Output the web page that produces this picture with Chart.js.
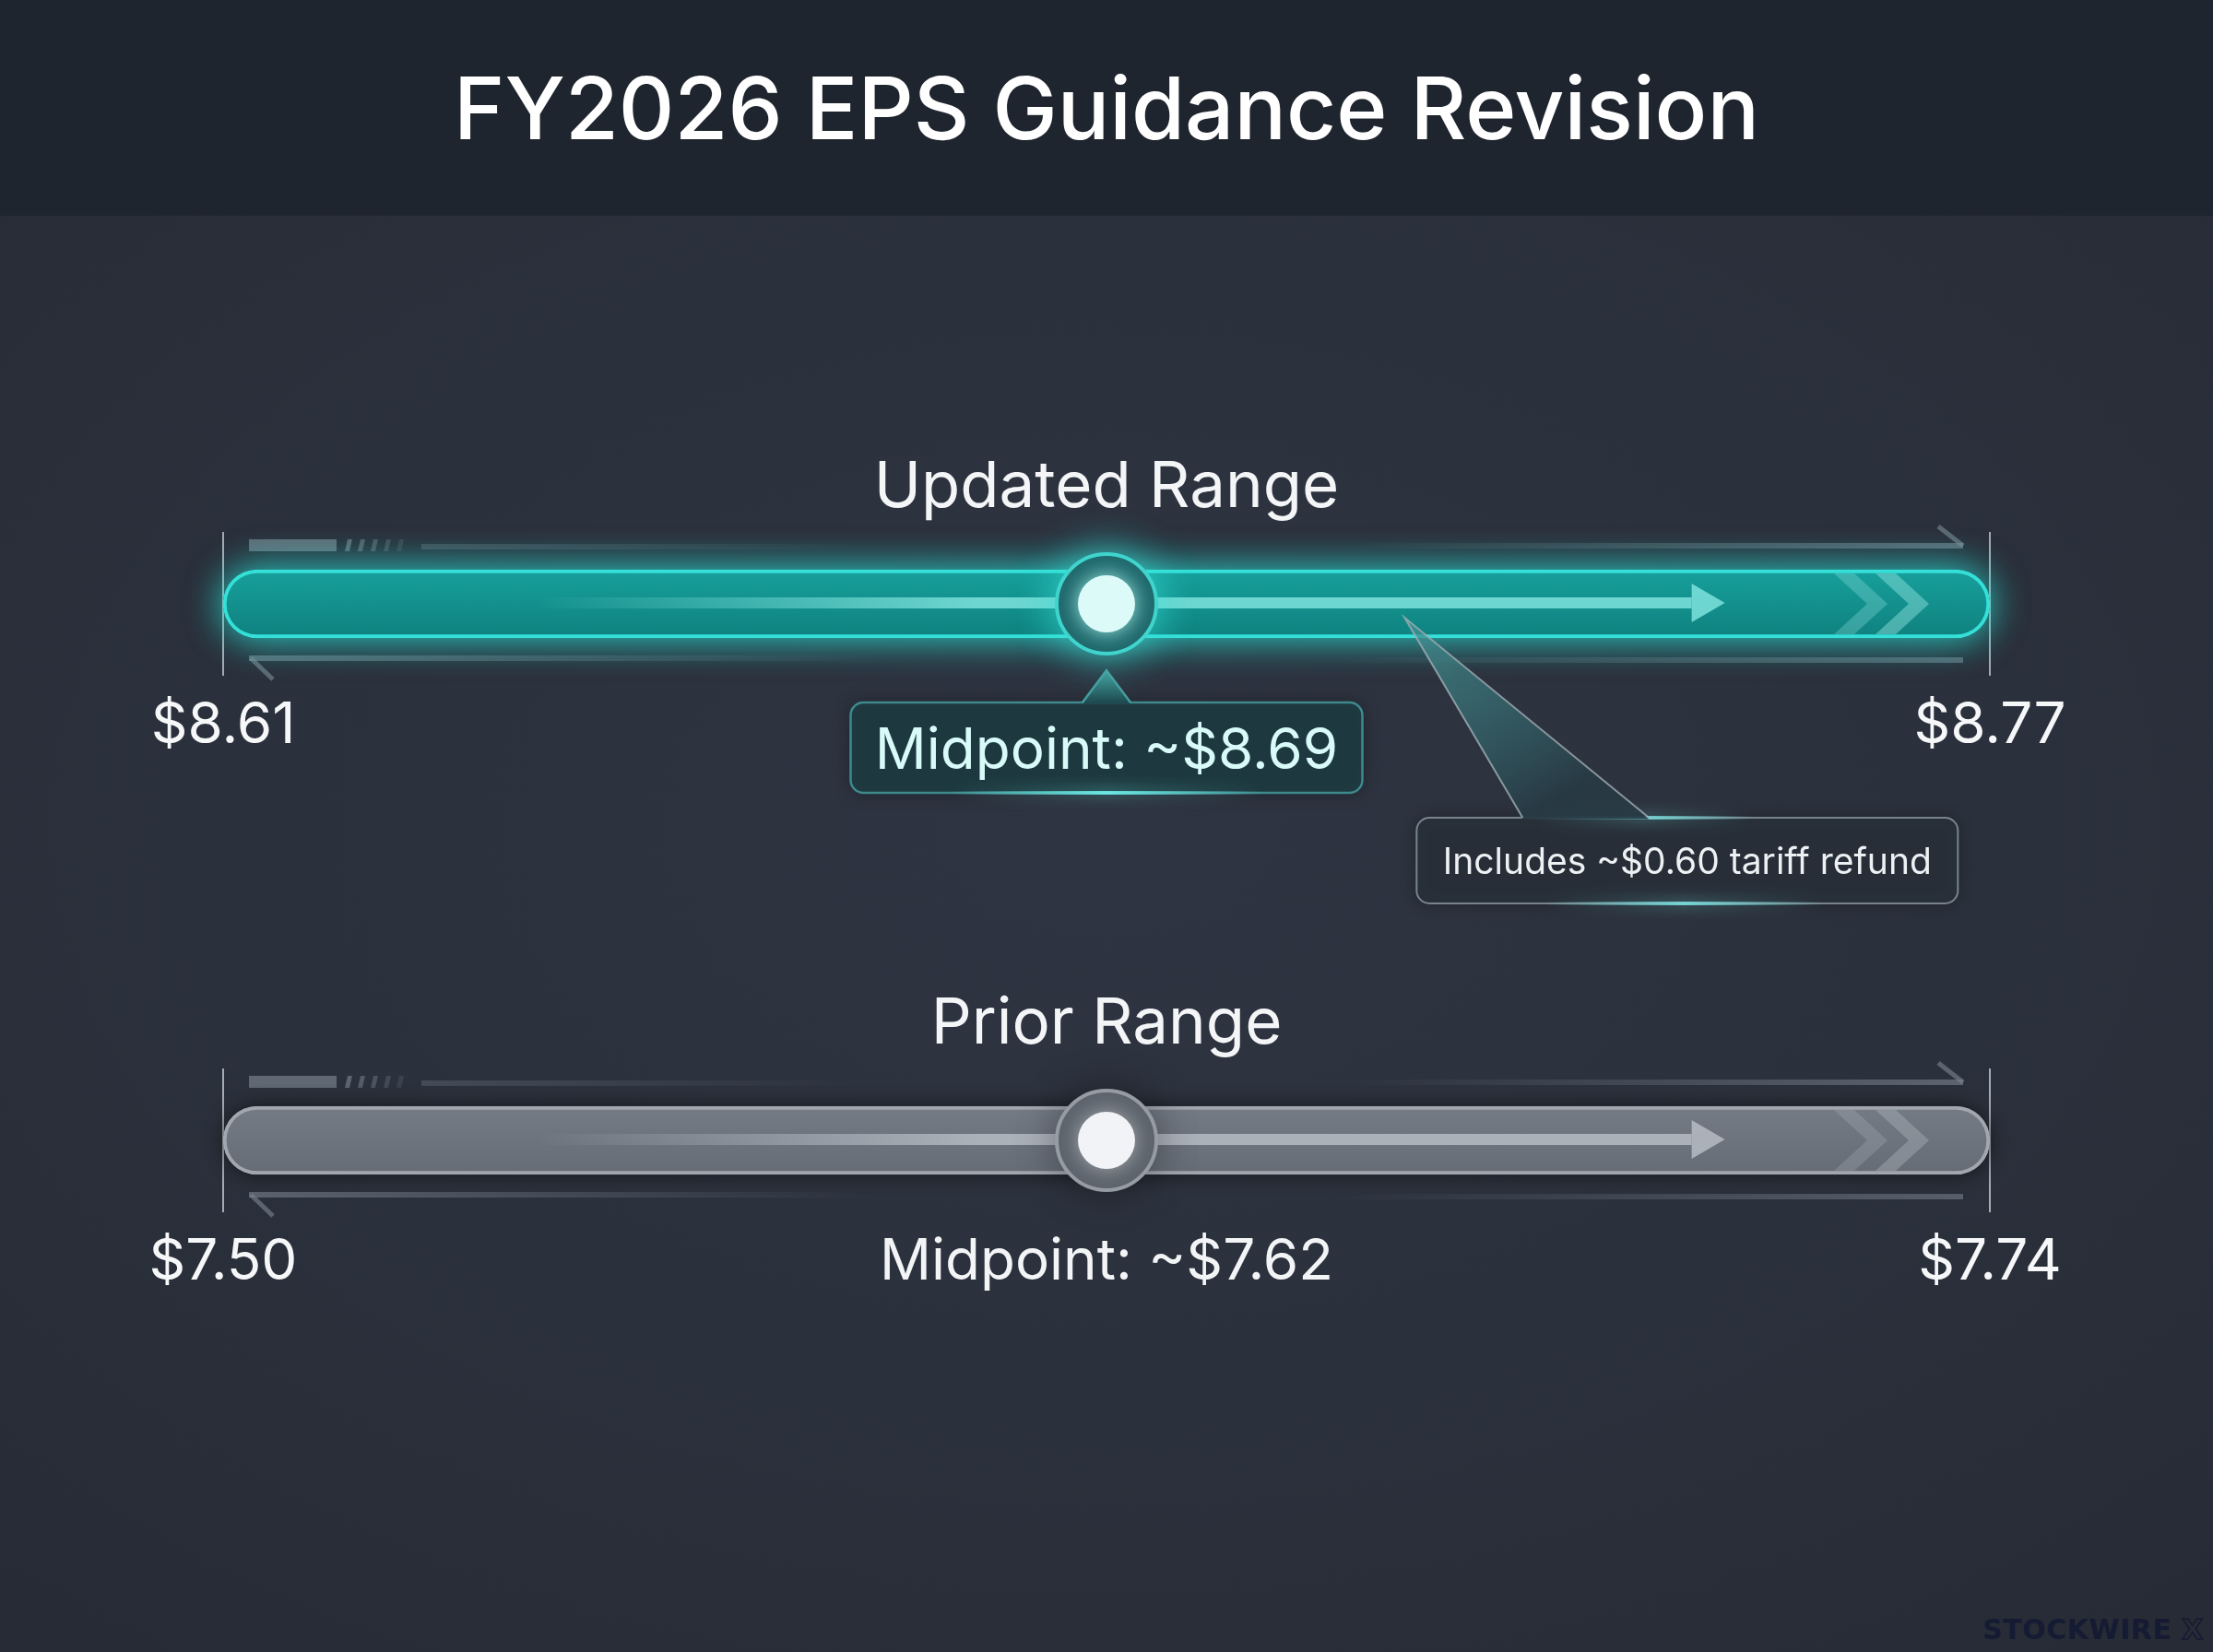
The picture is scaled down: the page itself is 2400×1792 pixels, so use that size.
<!DOCTYPE html>
<html lang="en">
<head>
<meta charset="UTF-8">
<title>FY2026 EPS Guidance Revision</title>
<script src="https://cdn.jsdelivr.net/npm/chart.js"></script>
<style>
  html, body { margin: 0; padding: 0; }
  body {
    width: 2400px; height: 1792px; overflow: hidden; position: relative;
    background: radial-gradient(ellipse 75% 65% at 50% 50%, #2e3441 0%, #2b313c 55%, #262b35 100%);
    font-family: Inter, "Noto Sans", sans-serif;
  }
  header {
    position: absolute; left: 0; top: 0; width: 2400px; height: 234px;
    background: #1f252e;
    display: flex; align-items: center; justify-content: center;
  }
  header h1 { margin: 0; color: #ffffff; font-weight: 500; font-size: 94px; }
  .chart-box { position: absolute; left: 0; top: 234px; width: 2400px; height: 1558px; }
  .brand {
    position: absolute; right: 10px; bottom: 7px;
    font-family: "DejaVu Sans", sans-serif; font-weight: bold; font-size: 30px;
    color: #141b33; letter-spacing: 0.5px;
  }
  .brand span { color: transparent; -webkit-text-stroke: 1.5px #141b33; }
</style>
</head>
<body>
<header><h1>FY2026 EPS Guidance Revision</h1></header>
<div class="chart-box"><canvas id="rangeChart"></canvas></div>
<div class="brand">STOCKWIRE <span>X</span></div>

<script>
// data
const rows = ['Updated Range', 'Prior Range'];
const lows = [8.61, 7.50];
const highs = [8.77, 7.74];
const mids = [8.69, 7.62];
const lowLabels = ['$8.61', '$7.50'];
const highLabels = ['$8.77', '$7.74'];
const midLabels = ['Midpoint: ~$8.69', 'Midpoint: ~$7.62'];
const noteText = 'Includes ~$0.60 tariff refund';
const noteAt = 8.717; // where the note points on the updated bar

// each row gets its own x axis so both ranges fill the width
const axisIds = ['xU', 'xP'];

const looks = [
  { fillTop: '#17a09c', fillBot: '#0f817f', border: '#34e0d8', glow: 'rgba(40,225,215,0.55)', glowBlur: 40,
    streak: '120,222,216', chevron: '160,236,232', ringFill: '#1d6065', ringBorder: '#3fd4cd',
    ringGlow: 'rgba(60,230,220,0.75)', dot: '#dcfaf8', dotGlow: 'rgba(180,255,250,0.9)',
    tick: 'rgba(205,212,218,0.75)', rail: '125,142,152', midColor: '#d8fbfa' },
  { fillTop: '#747b85', fillBot: '#656c76', border: '#a1a7af', glow: 'rgba(0,0,0,0.3)', glowBlur: 22,
    streak: '178,184,192', chevron: '172,178,186', ringFill: '#5f666f', ringBorder: '#959ca4',
    ringGlow: 'rgba(0,0,0,0.35)', dot: '#f1f3f6', dotGlow: 'rgba(255,255,255,0.45)',
    tick: 'rgba(205,212,218,0.75)', rail: '125,135,145', midColor: '#f2f4f6' }
];

function rowGeom(chart, i) {
  const xs = chart.scales[axisIds[i]];
  return {
    lx: xs.getPixelForValue(lows[i]),
    hx: xs.getPixelForValue(highs[i]),
    mx: xs.getPixelForValue(mids[i]),
    cy: chart.scales.y.getPixelForValue(i),
    xs: xs
  };
}

function barFill(chart, i) {
  if (!chart.chartArea) return looks[i].fillTop;
  const cy = chart.scales.y.getPixelForValue(i);
  const g = chart.ctx.createLinearGradient(0, cy - 37, 0, cy + 37);
  g.addColorStop(0, looks[i].fillTop);
  g.addColorStop(1, looks[i].fillBot);
  return g;
}

function capText(ctx, str, x, cy, size, color, weight) {
  ctx.font = (weight || 400) + ' ' + size + 'px Inter, "Noto Sans", sans-serif';
  ctx.fillStyle = color;
  ctx.textAlign = 'center';
  ctx.textBaseline = 'alphabetic';
  ctx.fillText(str, x, cy + size * 0.364);
}

function fadeLine(ctx, x0, x1, y, w, rgb, a0, a1) {
  const g = ctx.createLinearGradient(x0, 0, x1, 0);
  g.addColorStop(0, 'rgba(' + rgb + ',' + a0 + ')');
  g.addColorStop(1, 'rgba(' + rgb + ',' + a1 + ')');
  ctx.fillStyle = g;
  ctx.fillRect(x0, y - w / 2, x1 - x0, w);
}

function roundRect(ctx, x, y, w, h, r) {
  ctx.beginPath();
  ctx.moveTo(x + r, y);
  ctx.arcTo(x + w, y, x + w, y + h, r);
  ctx.arcTo(x + w, y + h, x, y + h, r);
  ctx.arcTo(x, y + h, x, y, r);
  ctx.arcTo(x, y, x + w, y, r);
  ctx.closePath();
}

function edgeGlow(ctx, cx, y, half, rgb) {
  const g = ctx.createLinearGradient(cx - half, 0, cx + half, 0);
  g.addColorStop(0, 'rgba(' + rgb + ',0)');
  g.addColorStop(0.5, 'rgba(' + rgb + ',0.9)');
  g.addColorStop(1, 'rgba(' + rgb + ',0)');
  ctx.save();
  ctx.shadowColor = 'rgba(' + rgb + ',0.9)';
  ctx.shadowBlur = 16;
  ctx.fillStyle = g;
  ctx.fillRect(cx - half, y - 2, half * 2, 4);
  ctx.restore();
}

// the bar element clips its own shadow, so the halo is painted underneath first
function barHalo(chart, i) {
  const ctx = chart.ctx, g = rowGeom(chart, i), s = looks[i];
  ctx.save();
  ctx.shadowColor = s.glow;
  ctx.shadowBlur = s.glowBlur;
  ctx.fillStyle = s.fillBot;
  for (let k = 0; k < 2; k++) {
    roundRect(ctx, g.lx, g.cy - 37, g.hx - g.lx, 74, 37);
    ctx.fill();
  }
  ctx.restore();
}

// ticks and rails behind the bars
function drawGuides(chart) {
  const ctx = chart.ctx;
  rows.forEach((r, i) => {
    const g = rowGeom(chart, i), s = looks[i];
    ctx.save();
    ctx.strokeStyle = s.tick;
    ctx.lineWidth = 2;
    [g.lx, g.hx].forEach(x => {
      ctx.beginPath();
      ctx.moveTo(x, g.cy - 78);
      ctx.lineTo(x, g.cy + 78);
      ctx.stroke();
    });

    // upper left block and dashes
    ctx.fillStyle = 'rgba(' + s.rail + ',0.65)';
    ctx.fillRect(g.lx + 28, g.cy - 70, 95, 13);
    for (let k = 0; k < 5; k++) {
      const x = g.lx + 132 + k * 14;
      ctx.fillStyle = 'rgba(' + s.rail + ',' + (0.6 - k * 0.1) + ')';
      ctx.beginPath();
      ctx.moveTo(x + 3, g.cy - 70);
      ctx.lineTo(x + 8, g.cy - 70);
      ctx.lineTo(x + 5, g.cy - 57);
      ctx.lineTo(x, g.cy - 57);
      ctx.closePath();
      ctx.fill();
    }
    fadeLine(ctx, g.lx + 215, g.mx - 260, g.cy - 62, 6, s.rail, 0.3, 0);
    fadeLine(ctx, g.mx + 260, g.hx - 29, g.cy - 63, 6, s.rail, 0, 0.6);

    // lower rails
    fadeLine(ctx, g.lx + 28, g.mx - 240, g.cy + 59, 6, s.rail, 0.6, 0);
    fadeLine(ctx, g.mx + 240, g.hx - 29, g.cy + 61, 6, s.rail, 0, 0.55);

    // hooks
    ctx.strokeStyle = 'rgba(' + s.rail + ',0.6)';
    ctx.lineWidth = 5;
    ctx.beginPath();
    ctx.moveTo(g.hx - 29, g.cy - 63);
    ctx.lineTo(g.hx - 56, g.cy - 84);
    ctx.stroke();
    ctx.beginPath();
    ctx.moveTo(g.lx + 30, g.cy + 59);
    ctx.lineTo(g.lx + 54, g.cy + 82);
    ctx.stroke();
    ctx.restore();
  });
}

// streak, arrow and chevrons inside a bar
function drawBarDecor(chart, i) {
  const ctx = chart.ctx, g = rowGeom(chart, i), s = looks[i];
  const w = g.hx - g.lx;
  const sx = g.lx + w * 0.177, tip = g.lx + w * 0.85, base = tip - 36;
  ctx.save();
  const grad = ctx.createLinearGradient(sx, 0, sx + 480, 0);
  grad.addColorStop(0, 'rgba(' + s.streak + ',0)');
  grad.addColorStop(1, 'rgba(' + s.streak + ',0.9)');
  ctx.fillStyle = grad;
  ctx.fillRect(sx, g.cy - 7, base - sx, 12);
  ctx.fillStyle = 'rgba(' + s.streak + ',0.9)';
  ctx.beginPath();
  ctx.moveTo(base, g.cy - 22);
  ctx.lineTo(tip, g.cy - 1);
  ctx.lineTo(base, g.cy + 20);
  ctx.closePath();
  ctx.fill();

  [[g.hx - 169, 0.28], [g.hx - 124, 0.42]].forEach(([x0, a]) => {
    ctx.fillStyle = 'rgba(' + s.chevron + ',' + a + ')';
    ctx.beginPath();
    ctx.moveTo(x0, g.cy - 33);
    ctx.lineTo(x0 + 22, g.cy - 33);
    ctx.lineTo(x0 + 58, g.cy);
    ctx.lineTo(x0 + 22, g.cy + 33);
    ctx.lineTo(x0, g.cy + 33);
    ctx.lineTo(x0 + 36, g.cy);
    ctx.closePath();
    ctx.fill();
  });
  ctx.restore();
}

function drawMidBox(ctx, g, s, text) {
  const w = 555, h = 98, top = g.cy + 107, left = g.mx - w / 2;
  ctx.save();
  ctx.shadowColor = 'rgba(0,0,0,0.35)';
  ctx.shadowBlur = 20;
  roundRect(ctx, left, top, w, h, 14);
  ctx.fillStyle = 'rgba(29,58,64,0.95)';
  ctx.fill();
  ctx.shadowColor = 'transparent';
  ctx.strokeStyle = 'rgba(72,168,168,0.75)';
  ctx.lineWidth = 2.5;
  ctx.stroke();
  edgeGlow(ctx, g.mx, top + h, 170, '110,240,235');

  // pointer up to the marker
  const pg = ctx.createLinearGradient(0, top - 35, 0, top);
  pg.addColorStop(0, '#45a8a5');
  pg.addColorStop(1, '#1e4a50');
  ctx.fillStyle = pg;
  ctx.beginPath();
  ctx.moveTo(g.mx - 26, top + 1.5);
  ctx.lineTo(g.mx, top - 35);
  ctx.lineTo(g.mx + 26, top + 1.5);
  ctx.closePath();
  ctx.fill();
  ctx.strokeStyle = 'rgba(72,168,168,0.9)';
  ctx.lineWidth = 2.5;
  ctx.beginPath();
  ctx.moveTo(g.mx - 26, top);
  ctx.lineTo(g.mx, top - 35);
  ctx.lineTo(g.mx + 26, top);
  ctx.stroke();
  ctx.restore();
  capText(ctx, text, g.mx, top + h / 2, 62, s.midColor);
}

function drawNote(ctx, chart) {
  const g = rowGeom(chart, 0);
  const ax = g.xs.getPixelForValue(noteAt), ay = g.cy + 15;
  const left = ax + 13, top = g.cy + 232, w = 587, h = 93;
  const b0 = left + 115, b1 = left + 252;
  ctx.save();
  ctx.shadowColor = 'rgba(0,0,0,0.35)';
  ctx.shadowBlur = 18;
  roundRect(ctx, left, top, w, h, 14);
  ctx.fillStyle = 'rgba(40,47,57,0.95)';
  ctx.fill();
  ctx.shadowColor = 'transparent';
  ctx.strokeStyle = 'rgba(150,162,170,0.75)';
  ctx.lineWidth = 2;
  ctx.stroke();
  edgeGlow(ctx, left + 245, top, 120, '120,220,220');
  edgeGlow(ctx, left + 290, top + h, 150, '120,220,220');

  const pg = ctx.createLinearGradient(ax, ay, b0, top);
  pg.addColorStop(0, 'rgba(70,150,152,0.7)');
  pg.addColorStop(1, 'rgba(40,58,68,0.95)');
  ctx.fillStyle = pg;
  ctx.beginPath();
  ctx.moveTo(b0, top + 1.5);
  ctx.lineTo(ax, ay);
  ctx.lineTo(b1, top + 1.5);
  ctx.closePath();
  ctx.fill();
  ctx.strokeStyle = 'rgba(160,174,180,0.8)';
  ctx.lineWidth = 2;
  ctx.beginPath();
  ctx.moveTo(b0, top);
  ctx.lineTo(ax, ay);
  ctx.lineTo(b1, top);
  ctx.stroke();
  ctx.restore();
  capText(ctx, noteText, left + w / 2, top + h / 2, 39, '#eef1f3');
}

function drawLabels(chart) {
  const ctx = chart.ctx;
  rows.forEach((r, i) => {
    const g = rowGeom(chart, i), s = looks[i];
    capText(ctx, r, g.mx, g.cy - 130, 69, '#f3f5f7');
    capText(ctx, lowLabels[i], g.lx, g.cy + 128, 62, '#f6f7f9');
    capText(ctx, highLabels[i], g.hx, g.cy + 128, 62, '#f6f7f9');
    if (i === 0) drawMidBox(ctx, g, s, midLabels[i]);
    else capText(ctx, midLabels[i], g.mx, g.cy + 128, 62, s.midColor);
  });
  drawNote(ctx, chart);
}

const rangeDecor = {
  id: 'rangeDecor',
  beforeDatasetsDraw(chart) { drawGuides(chart); },
  beforeDatasetDraw(chart, args) {
    const ds = chart.data.datasets[args.index], s = looks[ds.look];
    const ctx = chart.ctx;
    if (ds.kind === 'bar') barHalo(chart, ds.look);
    ctx.save();
    if (ds.kind === 'ring') { ctx.shadowColor = s.ringGlow; ctx.shadowBlur = 45; }
    if (ds.kind === 'dot') { ctx.shadowColor = s.dotGlow; ctx.shadowBlur = 22; }
  },
  afterDatasetDraw(chart, args) {
    const ds = chart.data.datasets[args.index];
    chart.ctx.restore();
    if (ds.kind === 'bar') drawBarDecor(chart, ds.look);
  },
  afterDatasetsDraw(chart) { drawLabels(chart); }
};

const datasets = [];
rows.forEach((r, i) => {
  datasets.push({
    type: 'bar', label: r, kind: 'bar', look: i,
    xAxisID: axisIds[i], yAxisID: 'y',
    data: [{ x: [lows[i], highs[i]], y: r }],
    grouped: false, barThickness: 74, borderRadius: 37, borderSkipped: false, borderWidth: 4,
    borderColor: looks[i].border,
    backgroundColor: c => barFill(c.chart, i),
    clip: false, order: 2
  });
  datasets.push({
    type: 'line', label: r + ' midpoint', kind: 'ring', look: i,
    xAxisID: axisIds[i], yAxisID: 'y',
    data: [{ x: mids[i], y: r }],
    showLine: false, pointRadius: 54, pointHoverRadius: 54, pointBorderWidth: 4,
    pointBackgroundColor: looks[i].ringFill, pointBorderColor: looks[i].ringBorder,
    clip: false, order: 1
  });
  datasets.push({
    type: 'line', label: r + ' midpoint dot', kind: 'dot', look: i,
    xAxisID: axisIds[i], yAxisID: 'y',
    data: [{ x: mids[i], y: r }],
    showLine: false, pointRadius: 31, pointHoverRadius: 31, pointBorderWidth: 0,
    pointBackgroundColor: looks[i].dot, pointBorderColor: 'rgba(0,0,0,0)',
    clip: false, order: 0
  });
});

function build() {
  new Chart(document.getElementById('rangeChart'), {
    data: { labels: rows, datasets: datasets },
    options: {
      indexAxis: 'y',
      responsive: true,
      maintainAspectRatio: false,
      animation: false,
      devicePixelRatio: 1,
      events: [],
      layout: { padding: { left: 242, right: 242, top: 130, bottom: 264 } },
      plugins: { legend: { display: false }, tooltip: { enabled: false } },
      scales: {
        y: { type: 'category', display: false, offset: true },
        xU: { type: 'linear', axis: 'x', display: false, min: lows[0], max: highs[0] },
        xP: { type: 'linear', axis: 'x', display: false, min: lows[1], max: highs[1] }
      }
    },
    plugins: [rangeDecor]
  });
}

Promise.all([
  document.fonts.load('400 62px Inter'),
  document.fonts.load('500 94px Inter')
]).then(build, build);
</script>
</body>
</html>
